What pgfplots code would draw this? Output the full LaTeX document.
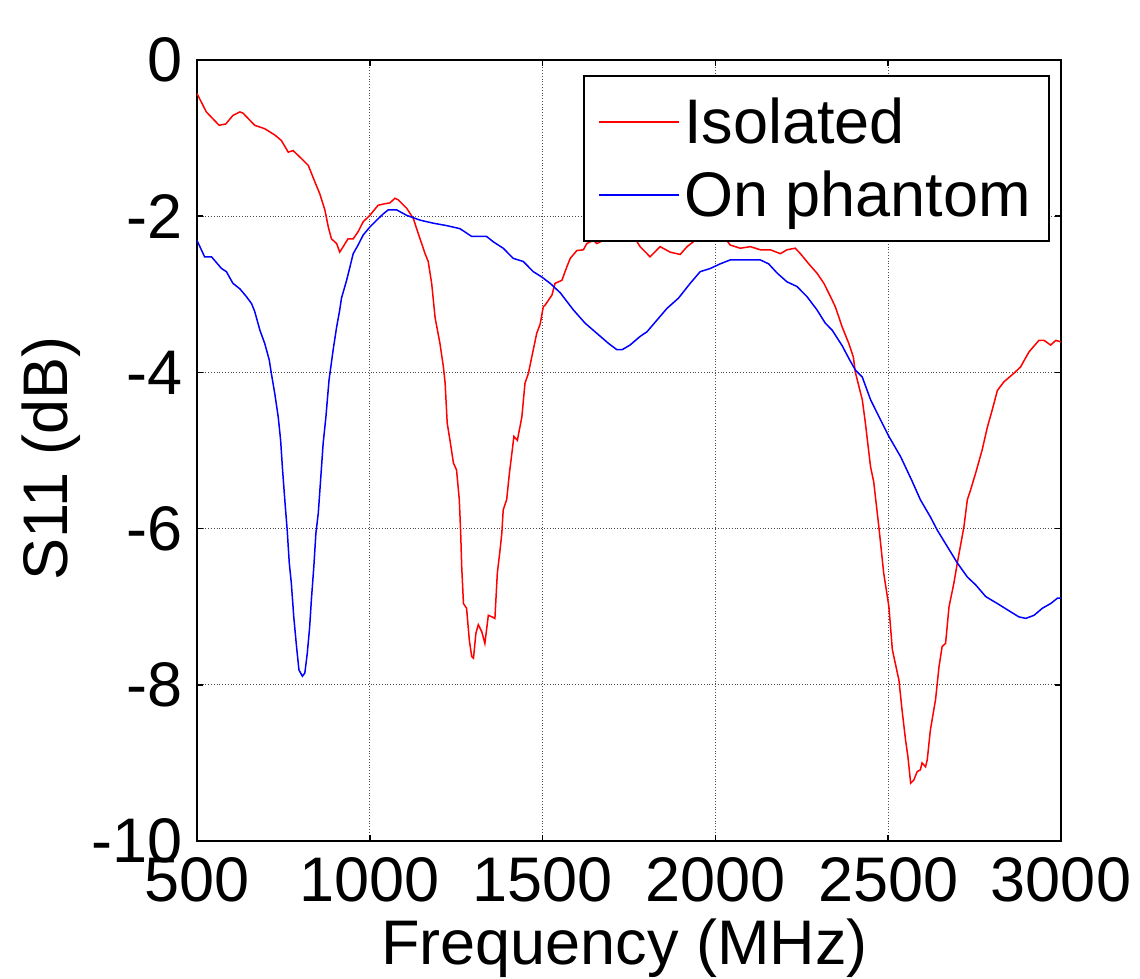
\documentclass[border=0pt]{standalone}
\usepackage{pgfplots}
\pgfplotsset{compat=1.18}
\usepackage{fontspec}
\setmainfont{Liberation Sans}
\newcommand\bigfont{\fontsize{31.5}{37}\selectfont}
\begin{document}
\begin{tikzpicture}
\begin{axis}[
 scale only axis, width=432pt, height=390.5pt,
 xmin=500, xmax=3000, ymin=-10, ymax=0,
 xtick={500,1000,1500,2000,2500,3000}, ytick={-10,-8,-6,-4,-2,0},
 xticklabels={500,1000,1500,2000,2500,3000},
 yticklabels={-10,-8,-6,-4,-2,0},
 tick align=inside, major tick length=3pt,
 grid=major, major grid style={densely dotted, black!70, line width=0.5pt},
 axis line style={line width=1pt},
 tick style={black, line width=0.8pt},
 tick label style={font=\bigfont, inner sep=0pt},
 xticklabel shift=8pt, yticklabel shift=7pt,
 xlabel={Frequency (MHz)}, ylabel={S11 (dB)},
 label style={font=\bigfont},
 x label style={at={(axis description cs:0.495,-0.137)}, anchor=center},
 y label style={at={(axis description cs:-0.169,0.49)}, anchor=center},
 legend style={at={(0.987,0.981)}, anchor=north east, font=\bigfont, draw=black, line width=1pt, inner xsep=7pt, inner ysep=9pt, row sep=8pt},
 legend cell align=left,
 legend image code/.code={\draw[#1, line width=0.8pt] (0pt,0pt) -- (40pt,0pt);},
]
\coordinate (sw) at (rel axis cs:0,0);
\coordinate (ne) at (rel axis cs:1,1);
\addplot[red, line width=0.75pt] coordinates {
(500,-0.43) (527,-0.665) (564,-0.836) (583,-0.82) (604,-0.71) (624,-0.665) (633,-0.68) (667,-0.836) (696,-0.88) (725,-0.96) (744,-1.03) (764,-1.18) (778,-1.16) (797,-1.24) (822,-1.35) (841,-1.56) (855,-1.71) (870,-1.92) (880,-2.14) (889,-2.29) (904,-2.35) (913,-2.46) (923,-2.39) (937,-2.29) (952,-2.29) (966,-2.20) (981,-2.07) (1000,-1.99) (1024,-1.86) (1044,-1.84) (1058,-1.83) (1073,-1.77) (1082,-1.79) (1107,-1.90) (1126,-2.03) (1140,-2.22) (1150,-2.35) (1160,-2.48) (1169,-2.58) (1179,-2.86) (1189,-3.3) (1203,-3.63) (1213,-3.93) (1218,-4.14) (1224,-4.65) (1232,-4.87) (1242,-5.16) (1251,-5.25) (1259,-5.63) (1263,-6.06) (1266,-6.49) (1271,-6.96) (1280,-7.02) (1288,-7.43) (1295,-7.64) (1300,-7.66) (1307,-7.34) (1314,-7.23) (1324,-7.32) (1333,-7.47) (1343,-7.11) (1353,-7.13) (1362,-7.15) (1369,-6.57) (1377,-6.27) (1382,-6.06) (1386,-5.76) (1396,-5.63) (1404,-5.29) (1411,-5.04) (1417,-4.82) (1427,-4.87) (1440,-4.57) (1449,-4.14) (1459,-4.01) (1473,-3.71) (1483,-3.50) (1493,-3.38) (1502,-3.16) (1507,-3.14) (1527,-3.01) (1536,-2.86) (1556,-2.82) (1570,-2.65) (1580,-2.54) (1599,-2.44) (1618,-2.43) (1628,-2.35) (1647,-2.31) (1657,-2.35) (1680,-2.30) (1700,-2.27) (1730,-2.25) (1750,-2.27) (1768,-2.29) (1782,-2.39) (1811,-2.52) (1840,-2.39) (1869,-2.46) (1898,-2.49) (1918,-2.39) (1947,-2.29) (1970,-2.25) (1990,-2.2) (2010,-2.22) (2029,-2.29) (2043,-2.37) (2072,-2.41) (2101,-2.39) (2130,-2.43) (2159,-2.43) (2188,-2.48) (2207,-2.43) (2231,-2.41) (2246,-2.48) (2270,-2.61) (2294,-2.73) (2314,-2.86) (2333,-3.03) (2347,-3.16) (2367,-3.42) (2386,-3.63) (2399,-3.80) (2405,-4.0) (2425,-4.35) (2434,-4.65) (2449,-5.21) (2458,-5.40) (2473,-5.98) (2487,-6.57) (2502,-7.00) (2512,-7.55) (2531,-7.94) (2540,-8.32) (2550,-8.70) (2557,-8.92) (2565,-9.26) (2574,-9.22) (2584,-9.11) (2593,-9.09) (2598,-9.00) (2608,-9.05) (2613,-8.96) (2622,-8.58) (2637,-8.19) (2647,-7.77) (2656,-7.51) (2666,-7.47) (2676,-7.00) (2690,-6.70) (2700,-6.44) (2719,-5.98) (2729,-5.63) (2738,-5.51) (2753,-5.29) (2772,-4.99) (2787,-4.70) (2801,-4.48) (2816,-4.23) (2835,-4.12) (2864,-4.01) (2883,-3.93) (2907,-3.74) (2936,-3.59) (2951,-3.59) (2970,-3.65) (2985,-3.59) (3000,-3.61)
};
\addlegendentry{Isolated}
\addplot[blue, line width=0.75pt] coordinates {
(500,-2.31) (522,-2.52) (542,-2.52) (571,-2.67) (585,-2.71) (604,-2.86) (624,-2.93) (643,-3.03) (658,-3.12) (667,-3.22) (682,-3.46) (696,-3.63) (709,-3.84) (715,-4.01) (725,-4.27) (735,-4.57) (742,-4.87) (747,-5.21) (754,-5.63) (761,-6.02) (767,-6.44) (773,-6.70) (780,-7.13) (788,-7.51) (795,-7.81) (805,-7.89) (812,-7.85) (819,-7.60) (826,-7.26) (831,-6.91) (838,-6.49) (844,-6.06) (851,-5.80) (857,-5.42) (865,-4.91) (873,-4.57) (882,-4.10) (894,-3.71) (904,-3.42) (913,-3.20) (918,-3.05) (933,-2.82) (952,-2.48) (966,-2.37) (981,-2.24) (1000,-2.14) (1020,-2.05) (1039,-1.97) (1053,-1.92) (1078,-1.92) (1107,-1.99) (1145,-2.05) (1184,-2.09) (1222,-2.12) (1261,-2.16) (1295,-2.26) (1338,-2.26) (1358,-2.33) (1386,-2.41) (1415,-2.54) (1444,-2.58) (1473,-2.71) (1498,-2.78) (1522,-2.86) (1551,-2.98) (1589,-3.20) (1623,-3.37) (1657,-3.50) (1691,-3.63) (1715,-3.71) (1730,-3.71) (1753,-3.65) (1782,-3.54) (1802,-3.48) (1831,-3.33) (1860,-3.18) (1893,-3.05) (1927,-2.86) (1956,-2.71) (1985,-2.67) (2014,-2.61) (2043,-2.56) (2092,-2.56) (2130,-2.56) (2154,-2.61) (2179,-2.73) (2207,-2.84) (2236,-2.90) (2265,-3.03) (2294,-3.20) (2318,-3.37) (2338,-3.46) (2367,-3.66) (2386,-3.82) (2405,-3.97) (2425,-4.06) (2449,-4.35) (2478,-4.61) (2502,-4.82) (2536,-5.08) (2570,-5.40) (2593,-5.63) (2622,-5.85) (2642,-6.02) (2671,-6.23) (2700,-6.44) (2729,-6.62) (2753,-6.72) (2782,-6.87) (2816,-6.96) (2845,-7.04) (2878,-7.13) (2898,-7.15) (2922,-7.11) (2946,-7.02) (2970,-6.96) (2990,-6.89) (3000,-6.89)
};
\addlegendentry{On phantom}
\end{axis}
\pgfresetboundingbox
\path ([shift={(-98.5pt,-69pt)}]sw) rectangle ([shift={(39.5pt,30pt)}]ne);
\end{tikzpicture}
\end{document}
